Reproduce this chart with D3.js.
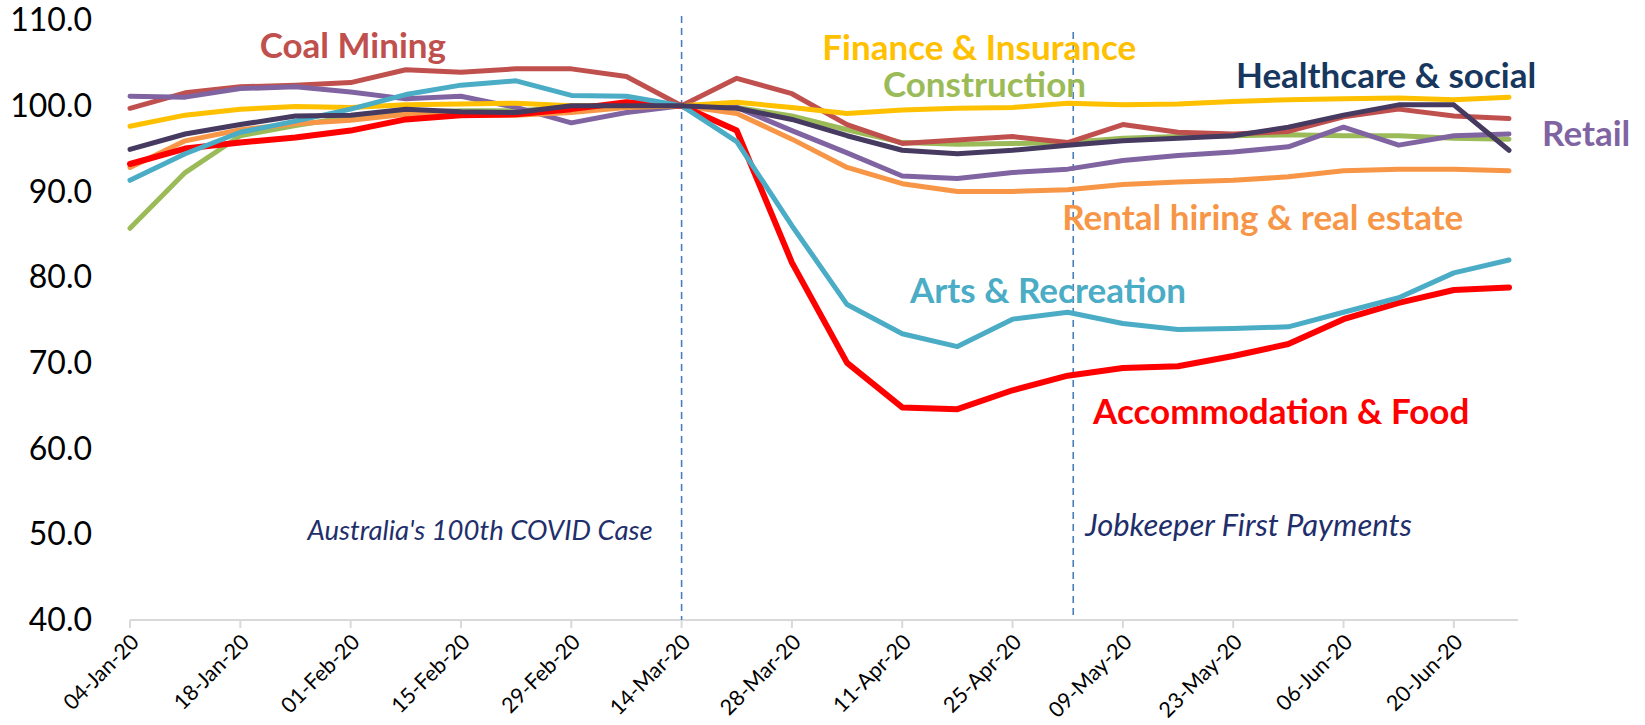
<!DOCTYPE html>
<html lang="en">
<head>
    <meta charset="UTF-8">
    <title>Industry index</title>
    <style>
        body { margin: 0; background: #fff; }
        text { font-family: Lato, "Open Sans", sans-serif; }
    </style>
</head>
<body>
<script src="https://d3js.org/d3.v7.min.js"></script>
<script>
    // weekly dates, 14-Mar-20 = 100
    let weeks = ["04-Jan-20", "11-Jan-20", "18-Jan-20", "25-Jan-20", "01-Feb-20", "08-Feb-20", "15-Feb-20",
        "22-Feb-20", "29-Feb-20", "07-Mar-20", "14-Mar-20", "21-Mar-20", "28-Mar-20", "04-Apr-20", "11-Apr-20",
        "18-Apr-20", "25-Apr-20", "02-May-20", "09-May-20", "16-May-20", "23-May-20", "30-May-20", "06-Jun-20",
        "13-Jun-20", "20-Jun-20", "27-Jun-20"];

    let coal = [99.7, 101.5, 102.2, 102.4, 102.7, 104.2, 103.9, 104.3, 104.3, 103.4, 100.0, 103.2, 101.4,
        97.8, 95.6, 96.0, 96.4, 95.7, 97.8, 96.9, 96.7, 97.0, 98.7, 99.6, 98.8, 98.5];
    let construction = [85.7, 92.2, 96.5, 97.7, 98.7, 99.2, 99.4, 99.4, 99.8, 100.0, 100.0, 99.8, 98.8,
        97.2, 95.7, 95.5, 95.6, 95.7, 96.2, 96.4, 96.5, 96.6, 96.5, 96.5, 96.2, 96.1];
    let retail = [101.1, 101.0, 102.0, 102.2, 101.6, 100.8, 101.1, 99.8, 98.0, 99.2, 100.0, 99.8, 97.1,
        94.5, 91.8, 91.5, 92.2, 92.6, 93.6, 94.2, 94.6, 95.2, 97.5, 95.4, 96.5, 96.7];
    let rental = [92.8, 95.9, 97.2, 97.9, 98.3, 99.0, 98.9, 98.9, 99.2, 99.8, 100.0, 99.1, 96.1,
        92.8, 90.9, 90.0, 90.0, 90.2, 90.8, 91.1, 91.3, 91.7, 92.4, 92.6, 92.6, 92.4];
    let finance = [97.6, 98.9, 99.6, 99.9, 99.8, 100.1, 100.2, 100.3, 100.0, 100.0, 100.0, 100.4, 99.8,
        99.1, 99.5, 99.7, 99.8, 100.3, 100.1, 100.2, 100.5, 100.7, 100.8, 100.9, 100.7, 101.0];
    let accommodation = [93.2, 95.0, 95.7, 96.3, 97.1, 98.4, 98.9, 99.0, 99.6, 100.4, 100.0, 97.1, 81.7,
        70.0, 64.8, 64.6, 66.8, 68.5, 69.4, 69.6, 70.8, 72.2, 75.1, 77.0, 78.5, 78.8];
    let arts = [91.3, 94.4, 96.9, 98.2, 99.6, 101.3, 102.4, 102.9, 101.2, 101.1, 100.0, 95.8, 86.0,
        76.8, 73.4, 71.9, 75.1, 75.9, 74.6, 73.9, 74.0, 74.2, 75.9, 77.6, 80.5, 82.0];
    let healthcare = [94.9, 96.7, 97.8, 98.8, 98.9, 99.6, 99.3, 99.2, 100.0, 100.0, 100.0, 99.7, 98.4,
        96.5, 94.8, 94.4, 94.8, 95.4, 95.9, 96.2, 96.5, 97.5, 98.9, 100.1, 100.1, 94.8];

    let yTicks = [40, 50, 60, 70, 80, 90, 100, 110];

    let events = [
        {label: "Australia's 100th COVID Case", week: 10},
        {label: "Jobkeeper First Payments", week: 17.1}
    ];

    let w = 1645, h = 725;

    let svg = d3.select("body")
        .append("svg")
        .attr("width", w)
        .attr("height", h);

    let x = d3.scaleLinear().domain([0, weeks.length - 1]).range([130, 1509]);
    let y = d3.scaleLinear().domain([40, 110]).range([620, 20]);

    // series: drawn back to front, label anchor in (week, value) units
    let series = [
        {name: "Construction", values: construction, color: "#9BBB59", width: 5, lx: 13.65, ly: 102.45},
        {name: "Coal Mining", values: coal, color: "#C0504D", width: 5, lx: 2.35, ly: 107.0},
        {name: "Retail", values: retail, color: "#8064A2", width: 5, lx: 25.6, ly: 96.7},
        {name: "Rental hiring & real estate", values: rental, color: "#F79646", width: 5, lx: 16.9, ly: 86.9},
        {name: "Finance & Insurance", values: finance, color: "#FFC000", width: 5, lx: 12.55, ly: 106.75},
        {name: "Accommodation & Food", values: accommodation, color: "#FF0000", width: 6, lx: 17.46, ly: 64.3},
        {name: "Arts & Recreation", values: arts, color: "#4BACC6", width: 5, lx: 14.14, ly: 78.4},
        {name: "Healthcare & social", values: healthcare, color: "#463A60", width: 5, lx: 20.05, ly: 103.5,
            labelColor: "#17375E"}
    ];

    // y tick labels
    svg.append("g")
        .selectAll("text")
        .data(yTicks)
        .enter()
        .append("text")
        .attr("x", 92)
        .attr("y", d => y(d))
        .attr("dy", "0.35em")
        .attr("text-anchor", "end")
        .style("font-size", "32px")
        .style("fill", "#000")
        .text(d => d3.format(".1f")(d));

    // x axis line + ticks
    let axis = svg.append("g");
    axis.append("line")
        .attr("x1", x(0))
        .attr("x2", x(weeks.length - 1) + 9)
        .attr("y1", y(40))
        .attr("y2", y(40))
        .style("stroke", "#D9D9D9")
        .style("stroke-width", 2);

    let shown = weeks.filter((d, i) => i % 2 === 0);

    axis.selectAll(".tk")
        .data(shown)
        .enter()
        .append("line")
        .attr("class", "tk")
        .attr("x1", d => x(weeks.indexOf(d)))
        .attr("x2", d => x(weeks.indexOf(d)))
        .attr("y1", y(40))
        .attr("y2", y(40) + 8)
        .style("stroke", "#D9D9D9")
        .style("stroke-width", 2);

    axis.selectAll(".lbl")
        .data(shown)
        .enter()
        .append("text")
        .attr("class", "lbl")
        .attr("transform", d => "translate(" + (x(weeks.indexOf(d)) + 5) + "," + (y(40) + 18) + ") rotate(-45)")
        .attr("text-anchor", "end")
        .attr("dy", "0.35em")
        .style("font-size", "21.5px")
        .style("fill", "#000")
        .text(d => d);

    // event lines
    svg.selectAll(".ev")
        .data(events)
        .enter()
        .append("line")
        .attr("class", "ev")
        .attr("x1", d => x(d.week))
        .attr("x2", d => x(d.week))
        .attr("y1", (d, i) => i === 0 ? 16 : 32)
        .attr("y2", y(40))
        .style("stroke", "#4A7EBB")
        .style("stroke-width", 1.6)
        .style("stroke-dasharray", "7,5");

    svg.selectAll(".evt")
        .data(events)
        .enter()
        .append("text")
        .attr("class", "evt")
        .attr("x", (d, i) => i === 0 ? x(d.week) - 29 : x(d.week) + 12)
        .attr("y", (d, i) => i === 0 ? 530 : 525)
        .attr("dy", "0.35em")
        .attr("text-anchor", (d, i) => i === 0 ? "end" : "start")
        .style("font-size", (d, i) => i === 0 ? "27.5px" : "31px")
        .style("font-style", "italic")
        .style("fill", "#1F2F6B")
        .text(d => d.label);

    // lines
    let line = d3.line()
        .x((d, i) => x(i))
        .y(d => y(d));

    svg.append("g")
        .selectAll("path")
        .data(series)
        .enter()
        .append("path")
        .attr("d", d => line(d.values))
        .style("fill", "none")
        .style("stroke", d => d.color)
        .style("stroke-width", d => d.width)
        .style("stroke-linejoin", "round")
        .style("stroke-linecap", "round");

    // series labels
    svg.append("g")
        .selectAll("text")
        .data(series)
        .enter()
        .append("text")
        .attr("x", d => x(d.lx))
        .attr("y", d => y(d.ly))
        .attr("dy", "0.35em")
        .style("font-size", "35px")
        .style("font-weight", "bold")
        .style("fill", d => d.labelColor || d.color)
        .text(d => d.name);
</script>
</body>
</html>
